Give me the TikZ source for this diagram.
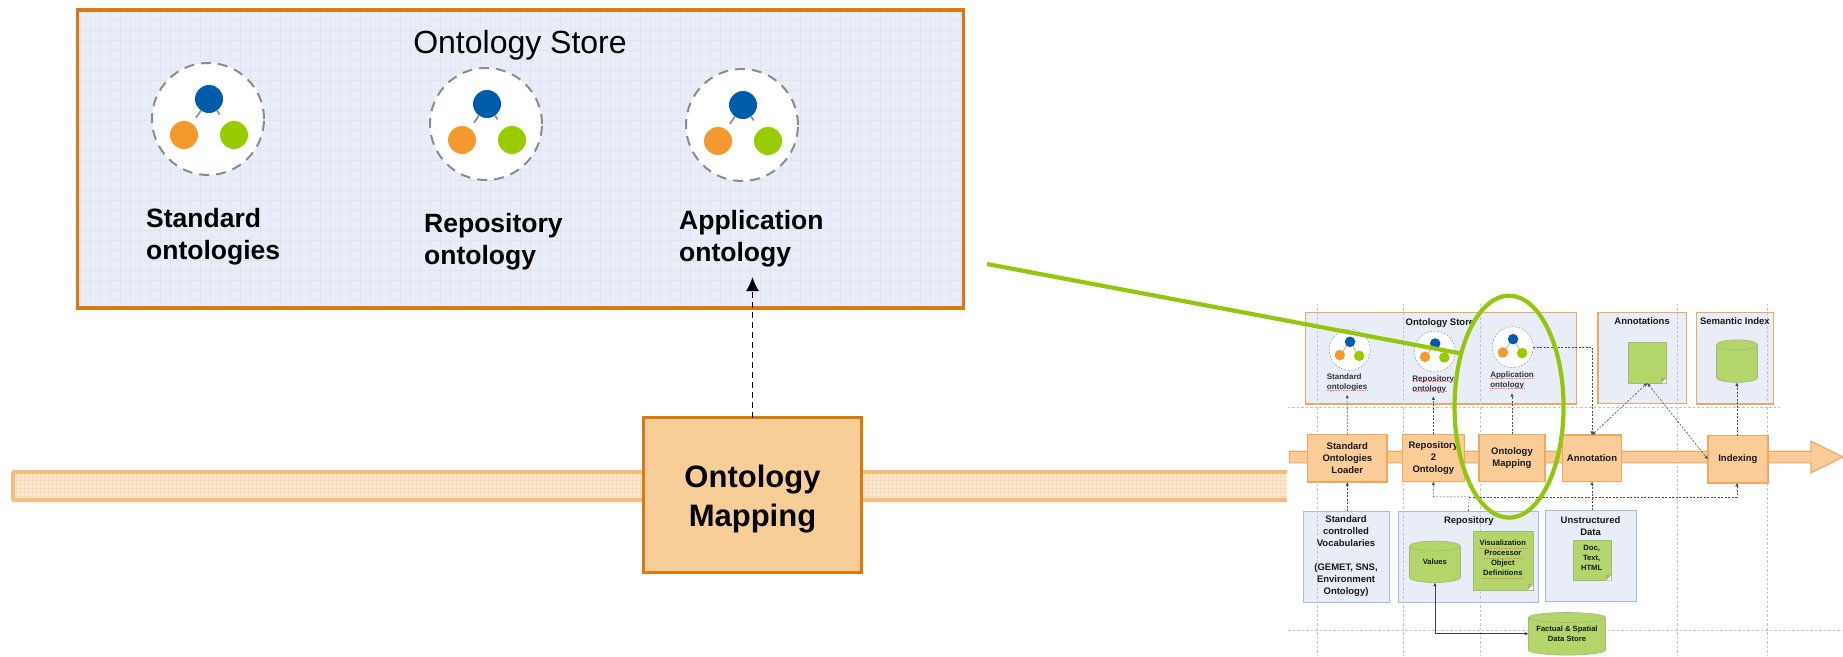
\documentclass[tikz,border=0pt]{standalone}
\usepackage{fontspec}
\setmainfont{Liberation Sans}
\usetikzlibrary{arrows.meta,shapes.geometric,calc}
\definecolor{storefill}{HTML}{E9EDF8}
\definecolor{gridblue}{HTML}{E0E5F4}
\definecolor{bigorange}{HTML}{DB7812}
\definecolor{mapfill}{HTML}{F8CE98}
\definecolor{bandedge}{HTML}{F6BC7C}
\definecolor{bandfill}{HTML}{FCE9D3}
\definecolor{bandgrid}{HTML}{F9DAB6}
\definecolor{dotblue}{HTML}{005BAA}
\definecolor{dotorange}{HTML}{F5992F}
\definecolor{dotgreen}{HTML}{99CC00}
\definecolor{hilite}{HTML}{93C60C}
\definecolor{miniedge}{HTML}{F0A860}
\definecolor{minifill}{HTML}{F9CC98}
\definecolor{blueedge}{HTML}{9CC0E0}
\definecolor{docgreen}{HTML}{B3D56A}
\definecolor{docedge}{HTML}{A3B97A}
\definecolor{guide}{HTML}{C4C4C4}
\tikzset{
  bigtext/.style={font=\bfseries\fontsize{26.5}{32}\selectfont,align=left,inner sep=0pt,anchor=north west,text=black},
  onthalo/.style={circle,draw=#1,fill=white,inner sep=0pt,outer sep=0pt},
  ontdot/.style={circle,fill=#1,inner sep=0pt,outer sep=0pt},
  storebox/.style={rectangle,draw=miniedge,line width=1.3pt,fill=storefill,inner sep=0pt,outer sep=0pt},
  procbox/.style={rectangle,draw=miniedge,line width=1.5pt,fill=minifill,inner sep=0pt,outer sep=0pt,align=center,text=black!90,font=\bfseries\fontsize{9.5}{12.2}\selectfont},
  srcbox/.style={rectangle,draw=blueedge,line width=1pt,fill=storefill,inner sep=0pt,outer sep=0pt},
  minitext/.style={align=center,inner sep=0pt,text=black!90,font=\bfseries\fontsize{9.5}{12}\selectfont},
  minilabel/.style={align=left,inner sep=0pt,anchor=north west,text=black!80,font=\bfseries\fontsize{8}{10.2}\selectfont},
  miniconn/.style={draw=black!70,line width=.6pt,dash pattern=on 2pt off 1.5pt,-{Latex[length=3.5pt,width=3.5pt]}},
  minidouble/.style={miniconn,{Latex[length=3.5pt,width=3.5pt]}-{Latex[length=3.5pt,width=3.5pt]}},
  guideline/.style={draw=guide,line width=.6pt,dash pattern=on 2.5pt off 2pt},
  cyltext/.style={rectangle,inner sep=0pt,outer sep=0pt,align=center,text=black!90,font=\bfseries\fontsize{7.6}{10}\selectfont},
  cylbody/.style={draw=docedge,line width=.6pt,fill=docgreen},
  docnote/.style={rectangle,fill=docgreen,draw=docedge,line width=.4pt,inner sep=0pt,outer sep=0pt},
  docword/.style={align=center,inner sep=0pt,text=black!90,font=\bfseries\fontsize{7.6}{10}\selectfont},
  redmark/.style={draw=red!55,line width=.7pt,dash pattern=on .8pt off .8pt}
}
% name, x1, y1, x2, y2, style, text (reduced-diagram coordinates)
\newcommand{\zbox}[7]{%
  \pgfmathsetmacro{\zwd}{(#4-#2)*0.3655}%
  \pgfmathsetmacro{\zht}{(#5-#3)*0.3325}%
  \node[#6,minimum width=\zwd pt,minimum height=\zht pt] (#1) at ({(#2+#4)/2},{(#3+#5)/2}) {#7};}
% cylinder: name, x1, y1, x2, y2, text
\newcommand{\zcyl}[6]{%
  \pgfmathsetmacro{\zrx}{(#4-#2)*0.3655/2}%
  \pgfmathsetmacro{\zcx}{(#2+#4)/2}%
  \pgfmathsetmacro{\ztop}{#3+15}%
  \pgfmathsetmacro{\zbot}{#5-15}%
  \draw[cylbody] (\zcx,\zbot) ellipse [x radius=\zrx pt,y radius=5pt];
  \fill[docgreen] (#2,\ztop) rectangle (#4,\zbot);
  \draw[docedge,line width=.6pt] (#2,\ztop) -- (#2,\zbot);
  \draw[docedge,line width=.6pt] (#4,\ztop) -- (#4,\zbot);
  \draw[cylbody] (\zcx,\ztop) ellipse [x radius=\zrx pt,y radius=5pt];
  \zbox{#1}{#2}{#3}{#4}{#5}{cyltext}{#6}}
\newcommand{\zdog}[1]{%
  \fill[white] (#1.south east) -- ++(-5pt,0) -- ++(5pt,5pt) -- cycle;
  \fill[docedge] ($(#1.south east)+(-5pt,0)$) -- ++(5pt,5pt) -- ++(-5pt,1pt) -- cycle;}
% name, centre, radius of halo
\newcommand{\bigont}[3]{%
  \node[onthalo=black!45,line width=2pt,dash pattern=on 10pt off 7pt,minimum size=#3pt*2] (#1) at (#2) {};
  \node[ontdot=dotblue,minimum size=28pt] (#1b) at ($(#1)+(1,-20)$) {};
  \node[ontdot=dotorange,minimum size=28pt] (#1o) at ($(#1)+(-24,16)$) {};
  \node[ontdot=dotgreen,minimum size=28pt] (#1g) at ($(#1)+(26,16)$) {};
  \draw[black!45,line width=1.7pt,shorten >=7pt] (#1b) -- (#1o);
  \draw[black!45,line width=1.7pt,shorten >=11pt] (#1b) -- (#1g);}
\newcommand{\miniont}[3]{%
  \node[onthalo=black!40,line width=.5pt,dash pattern=on 2pt off 1.5pt,minimum size=41pt] (#1) at (#2,#3) {};
  \node[ontdot=dotblue,minimum size=10.5pt] (#1b) at (#2+1,#3-24) {};
  \node[ontdot=dotorange,minimum size=10.5pt] (#1o) at (#2-27,#3+16) {};
  \node[ontdot=dotgreen,minimum size=10.5pt] (#1g) at (#2+26,#3+18) {};
  \draw[black!40,line width=.5pt] (#1b) -- (#1o);
  \draw[black!40,line width=.5pt] (#1b) -- (#1g);}
\begin{document}
\begin{tikzpicture}[x=1pt,y=-1pt]
\useasboundingbox (0,0) rectangle (1843,656);
% ---- flow band, left part
\fill[bandfill] (13,472) rectangle (1287,500);
\begin{scope}
  \clip (13,472) rectangle (1287,500);
  \draw[bandgrid,line width=.6pt,step=4pt] (13,472) grid (1287,500);
\end{scope}
\draw[bandedge,line width=3.5pt] (11.5,472) -- (1287,472);
\draw[bandedge,line width=3.5pt] (11.5,500) -- (1287,500);
\draw[bandedge,line width=3.5pt] (13,472) -- (13,500);
% ---- large ontology store
\fill[storefill] (77.5,10) rectangle (963.5,308);
\begin{scope}
  \clip (77.5,10) rectangle (963.5,308);
  \draw[gridblue,line width=.4pt,step=10pt] (70,0) grid (970,310);
\end{scope}
\node[rectangle,draw=bigorange,line width=3.7pt,minimum width=886pt,minimum height=298pt,inner sep=0pt,outer sep=0pt] (bigstore) at (520.5,159) {};
\node[font=\fontsize{32}{36}\selectfont,inner sep=0pt,anchor=base] (bigtitle) at (520,53) {Ontology Store};
\bigont{stdhalo}{208,119}{56}
\bigont{repohalo}{486,124}{56}
\bigont{apphalo}{742,125}{56}
\node[bigtext] (stdlabel) at (146,208) {Standard\\ontologies};
\node[bigtext] (repolabel) at (424,213) {Repository\\ontology};
\node[bigtext] (applabel) at (679,210) {Application\\ontology};
% ---- large mapping step
\node[rectangle,draw=bigorange,line width=3.7pt,fill=mapfill,minimum width=218pt,minimum height=155pt,inner sep=0pt,outer sep=0pt] (bigmap) at (752.5,495) {};
\node[inner sep=0pt,align=center,font=\bfseries\fontsize{31}{39}\selectfont] (bigmaptext) at (752.5,499) {Ontology\\Mapping};
\coordinate (bigtip) at (752.5,277);
\draw[black,line width=1.5pt,dash pattern=on 6pt off 4pt,-{Latex[length=14pt,width=13pt]}] (bigmap.north) -- (bigtip);
% ---- reduced overview diagram
\begin{scope}[shift={(1270,280)},x=0.3655pt,y=-0.3325pt]
  \zbox{ministore}{97}{97}{838}{373}{storebox}{}
  \zbox{miniann}{897}{97}{1140}{372}{storebox}{}
  \zbox{miniidx}{1166}{97}{1378}{373}{storebox}{}
  \zbox{vocab}{92}{695}{328}{970}{srcbox}{}
  \zbox{repo}{352}{695}{734}{970}{srcbox}{}
  \zbox{unstr}{755}{692}{1002}{967}{srcbox}{}
  \begin{scope}[guideline]
    \draw (48,384) -- (1395,384);
    \draw (50,1052) -- (1568,1052);
    \draw (128,72) -- (128,1128);
    \draw (366,72) -- (366,1128);
    \draw (574,72) -- (574,1128);
    \draw (1113,72) -- (1113,1128);
    \draw (1360,72) -- (1360,1128);
  \end{scope}
  % arrow band
  \draw[draw=miniedge,line width=1.2pt,fill=minifill] (53,515) -- (1480,515) -- (1480,485) -- (1568,532) -- (1480,580) -- (1480,550) -- (53,550) -- cycle;
  % titles
  \node[minitext] (tstore) at (465,128) {Ontology Store};
  \node[minitext] (tann) at (1018,124) {Annotations};
  \node[minitext] (tidx) at (1272,125) {Semantic Index};
  \node[minitext] (trepo) at (544,725) {Repository};
  \node[minitext] (tunstr) at (877,740) {Unstructured\\Data};
  \node[minitext] (tvocab) at (208,830) {Standard\\controlled\\Vocabularies\\[12pt](GEMET, SNS,\\Environment\\Ontology)};
  % small ontologies
  \miniont{mstd}{218}{210}
  \miniont{mrepo}{451}{215}
  \miniont{mapp}{664}{202}
  \node[minilabel] (lstd) at (155,281) {Standard\\ontologies};
  \node[minilabel] (lrepo) at (389,286) {Repository\\ontology};
  \node[minilabel] (lapp) at (602,276) {Application\\ontology};
  \coordinate (tipstd) at (211,345);
  \coordinate (tiprepo) at (447,350);
  \coordinate (tipapp) at (662,340);
  \draw[redmark] (155,333) -- (267,333);
  \draw[redmark] (390,305) -- (505,305);
  \draw[redmark] (390,335) -- (482,335);
  \draw[redmark] (602,295) -- (720,295);
  \draw[redmark] (602,325) -- (695,325);
  % process boxes
  \zbox{loader}{103}{464}{320}{608}{procbox}{Standard\\Ontologies\\Loader}
  \zbox{r2o}{362}{464}{532}{606}{procbox}{Repository\\2\\Ontology}
  \zbox{omap}{572}{464}{752}{606}{procbox}{Ontology\\Mapping}
  \zbox{annot}{800}{466}{962}{606}{procbox}{Annotation}
  \zbox{indexing}{1198}{468}{1362}{610}{procbox}{Indexing}
  % green stores
  \zbox{anndoc}{980}{188}{1084}{310}{docnote}{}
  \zbox{visdoc}{557}{755}{719}{932}{docnote}{}
  \zbox{txtdoc}{830}{782}{933}{903}{docnote}{}
  \zdog{anndoc}
  \zdog{visdoc}
  \zdog{txtdoc}
  \node[docword] (vistext) at (637,835) {Visualization\\Processor\\Object\\Definitions};
  \node[docword] (txttext) at (880,837) {Doc,\\Text,\\HTML};
  \draw[redmark] (570,806) -- (705,806);
  \draw[redmark] (585,836) -- (693,836);
  \draw[redmark] (580,896) -- (693,896);
  \zcyl{semcyl}{1221}{180}{1334}{308}{}
  \zcyl{values}{382}{785}{520}{910}{Values}
  \zcyl{factual}{707}{1000}{918}{1128}{Factual \& Spatial\\Data Store}
  % connectors
  \draw[miniconn] (loader.north) -- (tipstd);
  \draw[miniconn] (r2o.north -| tiprepo) -- (tiprepo);
  \draw[miniconn] (omap.north -| tipapp) -- (tipapp);
  \draw[miniconn] (mapp.east) -| (annot.north);
  \draw[minidouble] (annot.north) -- (anndoc.south);
  \draw[minidouble] (anndoc.south) -- (indexing.west);
  \draw[miniconn] (indexing.north -| semcyl.south) -- (semcyl.south);
  \draw[miniconn] (vocab.north -| loader.south) -- (loader.south);
  \draw[miniconn] (unstr.north -| annot.south) -- (annot.south);
  \coordinate (busjoin) at (545,652);
  \draw[miniconn] (repo.north) -- (busjoin) -| (r2o.south -| tiprepo);
  \draw[miniconn] (busjoin) -| (indexing.south -| semcyl.south);
  \draw[draw=black!75,line width=.7pt,{Latex[length=3.5pt,width=3.5pt]}-{Latex[length=3.5pt,width=3.5pt]}] (values.south) |- (factual.west);
  % highlight
  \node[ellipse,draw=hilite,line width=4.2pt,minimum width=109pt,minimum height=222pt,inner sep=0pt,outer sep=0pt] (highlight) at (654,381) {};
\end{scope}
\coordinate (greenstart) at (987,264);
\draw[hilite,line width=4.2pt] (greenstart) -- (highlight.132);
\end{tikzpicture}
\end{document}
